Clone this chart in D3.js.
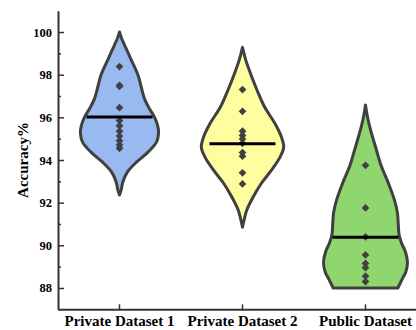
<!DOCTYPE html>
<html><head><meta charset="UTF-8">
<script src="https://d3js.org/d3.v7.min.js"></script>
</head>
<body style="margin:0;background:#fff">
<div id="body"></div>
<script type="text/javascript">

var categories = ["Private Dataset 1", "Private Dataset 2", "Public Dataset"];

// individual accuracies (diamonds)
var points1 = [98.38, 97.50, 97.45, 96.45, 95.85, 95.60, 95.35, 95.12, 94.90, 94.70, 94.55];
var points2 = [97.30, 96.28, 95.35, 95.15, 94.98, 94.78, 94.35, 94.18, 93.40, 92.88];
var points3 = [93.75, 91.75, 90.40, 89.55, 89.15, 88.95, 88.55, 88.30];

var medians = [96.02, 94.76, 90.38];

// violin outlines: [accuracy, relative density]
var density1 = [[100.0, 0], [99.7, 0.05], [99.39, 0.12], [98.78, 0.26], [97.98, 0.44], [97.4, 0.52], [96.9, 0.59],
                [96.45, 0.70], [96.02, 0.83], [95.6, 0.91], [95.25, 0.93], [94.84, 0.88], [94.37, 0.68],
                [93.91, 0.41], [93.44, 0.19], [92.97, 0.08], [92.6, 0.04], [92.36, 0]];
var density2 = [[99.28, 0], [98.67, 0.08], [98.06, 0.19], [97.26, 0.35], [96.47, 0.53], [95.72, 0.77],
                [95.06, 0.93], [94.59, 0.98], [94.12, 0.89], [93.52, 0.69], [92.91, 0.45], [92.25, 0.25],
                [91.64, 0.10], [91.2, 0.04], [90.85, 0]];
var density3 = [[96.58, 0], [96.1, 0.04], [95.56, 0.10], [94.47, 0.26], [93.69, 0.38], [92.94, 0.54],
                [92.12, 0.69], [91.52, 0.76], [91.0, 0.78], [90.5, 0.80], [90.1, 0.86], [89.7, 0.95],
                [89.2, 1.0], [88.75, 0.96], [88.4, 0.87], [88.0, 0.77]];

var yTicks = [88, 90, 92, 94, 96, 98, 100];

var colors = ["#99b9f1", "#fefea0", "#90d66f"];

var groups = categories.map(function(c, i) {
    return {name: c, points: [points1, points2, points3][i], median: medians[i],
            density: [density1, density2, density3][i], color: colors[i]};
});

var w = 416, h = 330;

var svg = d3.select("#body").append("svg")
    .attr("width", w)
    .attr("height", h)
    .style("font-family", "'Liberation Serif', 'Times New Roman', serif");

var x = d3.scaleBand().domain(categories).range([58, 427]).padding(0);
var y = d3.scaleLinear().domain([87, 101]).range([309.3, 10.7]);
var wd = d3.scaleLinear().domain([0, 1]).range([0, 42]);

// violins
var area = d3.area()
    .curve(d3.curveCatmullRom.alpha(0.5))
    .y(function(d) { return y(d[0]); });

var g = svg.selectAll(".violin")
    .data(groups)
    .enter().append("g")
    .attr("class", "violin");

g.append("path")
    .attr("d", function(d) {
        var cx = x(d.name) + x.bandwidth() / 2;
        return area.x0(function(p) { return cx - wd(p[1]); })
                   .x1(function(p) { return cx + wd(p[1]); })(d.density);
    })
    .style("fill", function(d) { return d.color; })
    .style("stroke", "#404040")
    .style("stroke-width", 3)
    .style("stroke-linejoin", "round");

g.each(function(d) {
    var cx = x(d.name) + x.bandwidth() / 2;
    d3.select(this).selectAll("path.pt")
        .data(d.points)
        .enter().append("path")
        .attr("class", "pt")
        .attr("d", d3.symbol().type(d3.symbolSquare).size(30))
        .attr("transform", function(v) { return "translate(" + cx + "," + y(v) + ") rotate(45)"; })
        .style("fill", "#404040");
    d3.select(this).append("line")
        .attr("x1", cx - 33).attr("x2", cx + 33)
        .attr("y1", y(d.median)).attr("y2", y(d.median))
        .style("stroke", "#000")
        .style("stroke-width", 3);
});

// axes
var yAxis = svg.append("g")
    .attr("transform", "translate(58,0)")
    .call(d3.axisLeft(y).tickValues(yTicks).tickSizeInner(-6).tickSizeOuter(0).tickPadding(6));
var minor = svg.append("g")
    .attr("transform", "translate(58,0)")
    .call(d3.axisLeft(y).tickValues(yTicks.slice(0, -1).map(function(t) { return t + 1; }).concat([87]))
          .tickSizeInner(-3).tickSizeOuter(0).tickFormat(""));
minor.select(".domain").remove();

var xAxis = svg.append("g")
    .attr("transform", "translate(0,309.3)")
    .call(d3.axisBottom(x).tickSizeInner(-5).tickSizeOuter(0));

svg.selectAll(".domain").style("stroke", "#333").style("stroke-width", 2);
svg.selectAll(".tick line").style("stroke", "#333").style("stroke-width", 1.5);

yAxis.selectAll(".tick text")
    .attr("x", -6)
    .style("font-size", "12.5px")
    .style("font-weight", "bold")
    .style("font-family", "'Liberation Serif', serif")
    .style("fill", "#000");

xAxis.selectAll(".tick text")
    .attr("dy", "0.71em")
    .attr("y", 6.5)
    .style("font-size", "15px")
    .style("font-weight", "bold")
    .style("font-family", "'Liberation Serif', serif")
    .style("fill", "#000");

svg.append("text")
    .attr("transform", "translate(28,160) rotate(-90)")
    .style("text-anchor", "middle")
    .style("font-size", "15px")
    .style("font-weight", "bold")
    .text("Accuracy%");

</script>
</body></html>
